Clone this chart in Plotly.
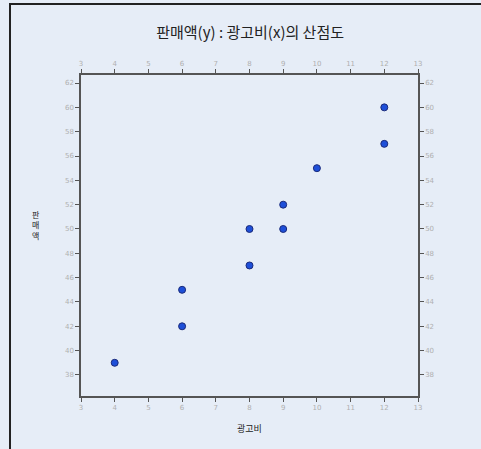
import plotly.graph_objects as go

# Data
ad_cost = [4, 6, 6, 8, 8, 9, 9, 10, 12, 12]
sales = [39, 42, 45, 47, 50, 50, 52, 55, 57, 60]
x_ticks = list(range(3, 14))
y_ticks = list(range(38, 63, 2))

title_text = "판매액(y) : 광고비(x)의 산점도"
x_title = "광고비"
y_title = "판<br>매<br>액"

bg = "#E6EDF7"
tick_font = dict(family="DejaVu Sans", size=7, color="#B0B0B0")
axis_line = "#555555"

fig = go.Figure()
fig.add_trace(go.Scatter(
    x=ad_cost, y=sales, mode="markers",
    marker=dict(size=7, color="#1E4FD8", line=dict(color="#1A2A7A", width=1)),
    showlegend=False, hoverinfo="x+y",
))
# invisible trace for mirrored axes
fig.add_trace(go.Scatter(
    x=ad_cost, y=sales, mode="markers", xaxis="x2", yaxis="y2",
    marker=dict(size=1, opacity=0), showlegend=False, hoverinfo="skip",
))

xr = [3, 13]
yr = [36.27, 62.66]
common_x = dict(range=xr, tickmode="array", tickvals=x_ticks, ticks="outside",
                ticklen=4, tickcolor=axis_line, showline=True, linecolor=axis_line,
                linewidth=1.5, showgrid=False, zeroline=False, tickfont=tick_font,
                automargin=False)
common_y = dict(range=yr, tickmode="array", tickvals=y_ticks, ticks="outside",
                ticklen=4, tickcolor=axis_line, showline=True, linecolor=axis_line,
                linewidth=1.5, showgrid=False, zeroline=False, tickfont=tick_font,
                automargin=False)

fig.update_layout(
    width=481, height=449,
    margin=dict(l=81, r=63, t=75, b=53),
    paper_bgcolor=bg, plot_bgcolor=bg,
    title=dict(text=title_text, x=0.52, xanchor="center", y=1 - 33 / 449, yanchor="middle",
               font=dict(family="Noto Sans CJK KR", size=15, color="#222222")),
    xaxis=dict(**common_x, side="bottom"),
    xaxis2=dict(**common_x, side="top", overlaying="x"),
    yaxis=dict(**common_y, side="left"),
    yaxis2=dict(**common_y, side="right", overlaying="y"),
    font=dict(family="Noto Sans CJK KR"),
    annotations=[
        dict(text=x_title, xref="paper", yref="paper", x=0.5, y=(396 - 428) / 321,
             xanchor="center", yanchor="middle", showarrow=False,
             font=dict(family="Noto Sans CJK KR", size=9, color="#222222")),
        dict(text=y_title, xref="paper", yref="paper", x=(36 - 81) / 337, y=(396 - 225) / 321,
             xanchor="center", yanchor="middle", showarrow=False, textangle=0,
             font=dict(family="Noto Sans CJK KR", size=8, color="#222222")),
    ],
    shapes=[
        dict(type="rect", xref="paper", yref="paper",
             x0=(10 - 81) / 337, x1=(500 - 81) / 337,
             y0=(396 - 470) / 321, y1=(396 - 4) / 321,
             line=dict(color="#222222", width=2), fillcolor="rgba(0,0,0,0)", layer="below"),
    ],
)

fig.write_html("out.html", config={"displayModeBar": False},
               post_script="document.body.style.margin='0';document.body.style.background='%s';" % bg)
